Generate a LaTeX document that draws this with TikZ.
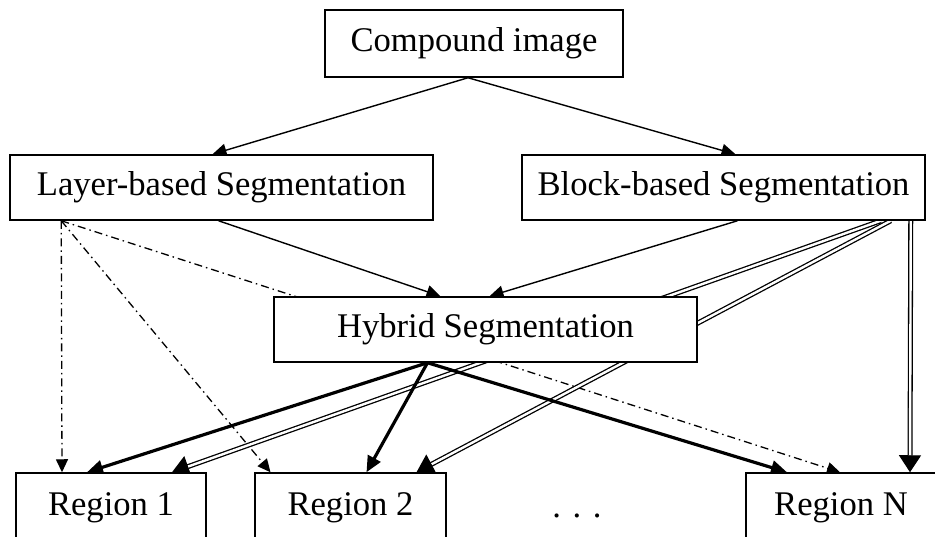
\documentclass[tikz,border=0pt]{standalone}
\usepackage{fontspec}
\setmainfont{Liberation Serif}
\usetikzlibrary{arrows.meta,backgrounds}

\tikzset{
  box/.style={draw, line width=1.5pt, fill=white, inner sep=0pt,
    font=\fontsize{34.6}{40}\selectfont},
  flow/.style={line width=1.4pt, -{Triangle[length=14pt,width=13pt]}},
  heavy/.style={line width=3.2pt, -{Triangle[length=16pt,width=14pt]}},
  twin/.style={double, line width=1.3pt, double distance=2.4pt,
    -{Triangle[length=17pt,width=22pt]}},
  hint/.style={line width=1.3pt, dash pattern=on 8pt off 4pt on 1.5pt off 4pt,
    -{Triangle[length=13pt,width=12pt]}}
}

\begin{document}
\begin{tikzpicture}[x=1pt,y=-1pt]
\useasboundingbox (0,0) rectangle (935,536);

\node[box,minimum width=298pt,minimum height=67pt] (comp) at (474,43.5) {Compound image};
\node[box,minimum width=423pt,minimum height=65pt] (layer) at (221.5,187.5) {Layer-based Segmentation};
\node[box,minimum width=403pt,minimum height=65pt] (block) at (723.5,187.5) {Block-based Segmentation};
\node[box,minimum width=423pt,minimum height=65pt] (hybrid) at (485.5,329.5) {Hybrid Segmentation};
\node[box,minimum width=190pt,minimum height=70pt] (r1) at (111,508) {Region 1};
\node[box,minimum width=191pt,minimum height=70pt] (r2) at (350.5,508) {Region 2};
\node[box,minimum width=190pt,minimum height=70pt] (rN) at (841,508) {Region N};
\node[font=\fontsize{34.6}{40}\selectfont,anchor=base] (dots) at (577,517) {. . .};

\coordinate (ls) at ([xshift=52pt]layer.south west);
\coordinate (hs) at ([xshift=-58pt]hybrid.south);

\begin{scope}[on background layer]
\draw[flow] ([xshift=-6pt]comp.south) -- ([xshift=-9pt]layer.north);
\draw[flow] ([xshift=-6pt]comp.south) -- ([xshift=12pt]block.north);
\draw[flow] ([xshift=-3pt]layer.south) -- ([xshift=-45pt]hybrid.north);
\draw[flow] ([xshift=14pt]block.south) -- ([xshift=4pt]hybrid.north);
% dash-dot lines from the layer box
\draw[hint] (ls) -- ([xshift=-49pt]r1.north);
\draw[hint] (ls) -- ([xshift=-80pt]r2.north);
\draw[hint] (ls) -- ([xshift=-1pt]rN.north);
% double lines from the block box
\draw[twin] ([xshift=-45pt]block.south east) -- ([xshift=61pt]r1.north);
\draw[twin] ([xshift=-35pt]block.south east) -- ([xshift=66pt]r2.north);
\draw[twin] ([xshift=-15pt]block.south east) -- ([xshift=69pt]rN.north);
% thick lines from the hybrid box
\draw[heavy] (hs) -- ([xshift=-24pt]r1.north);
\draw[heavy] (hs) -- ([xshift=16pt]r2.north);
\draw[heavy] (hs) -- ([xshift=-54pt]rN.north);
\end{scope}
\end{tikzpicture}
\end{document}
